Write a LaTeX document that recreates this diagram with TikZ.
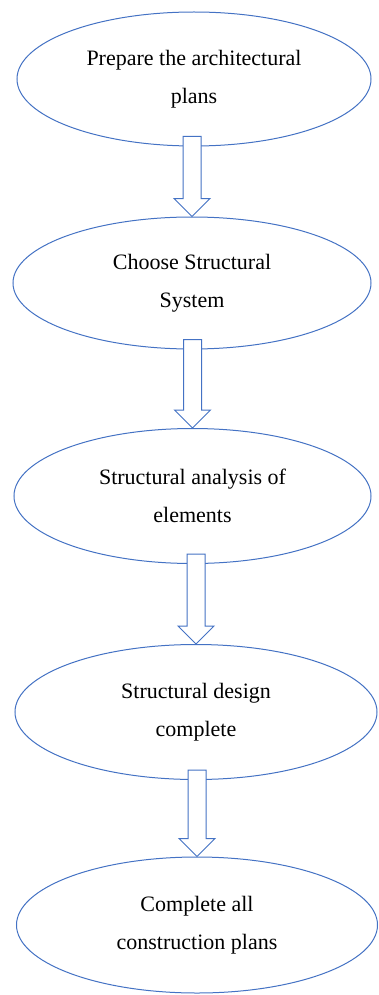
\documentclass[tikz,border=0pt]{standalone}
\usepackage{fontspec}
\setmainfont{Liberation Serif}
\usepackage{tikz}
\usetikzlibrary{shapes.geometric,calc}
\definecolor{wordblue}{HTML}{4472C4}
\tikzset{every picture/.style={line width=1pt}}
\tikzstyle{stage}=[ellipse,draw=wordblue,fill=white,inner sep=0pt,align=center,
  font=\fontsize{22}{38}\selectfont]
\tikzstyle{blk}=[draw=wordblue,fill=white,line join=miter]

\begin{document}
\begin{tikzpicture}[x=1pt,y=-1pt]
\useasboundingbox (0,0) rectangle (378,995);
\node[stage,minimum width=354pt,minimum height=134pt] (plans) at (194,79) {Prepare the architectural\\plans};
\node[stage,minimum width=358pt,minimum height=132pt] (system) at (192,283) {Choose Structural\\System};
\node[stage,minimum width=357pt,minimum height=135pt] (analysis) at (192.5,496) {Structural analysis of\\elements};
\node[stage,minimum width=362pt,minimum height=135pt] (design) at (196,712) {Structural design\\complete};
\node[stage,minimum width=361pt,minimum height=136pt] (construct) at (197,925) {Complete all\\construction plans};
% hollow block arrows
\foreach \a/\b in {plans/system,system/analysis,analysis/design,design/construct}
  \draw[blk] ($(\a.south -| \b.north)+(-9,-10)$) -- ($(\b.north)+(-9,-18)$)
    -- ($(\b.north)+(-18,-18)$) -- (\b.north) -- ($(\b.north)+(18,-18)$)
    -- ($(\b.north)+(9,-18)$) -- ($(\a.south -| \b.north)+(9,-10)$) -- cycle;
\end{tikzpicture}
\end{document}
